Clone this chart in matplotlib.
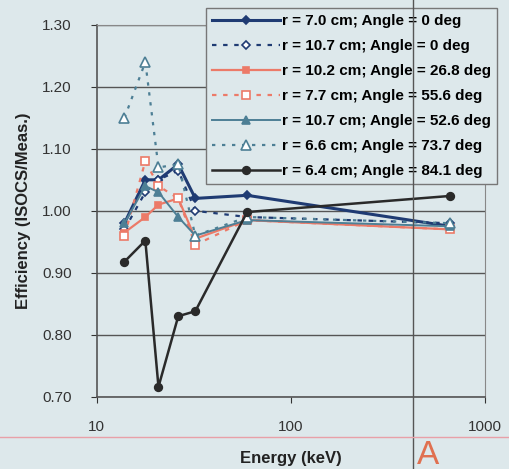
import numpy as np
import matplotlib.pyplot as plt
from matplotlib.lines import Line2D

# Energies (keV) of the measured lines
energy = [13.9, 17.8, 20.8, 26.3, 32.2, 59.5, 661.7]

labels = ["r = 7.0 cm; Angle = 0 deg",
          "r = 10.7 cm; Angle = 0 deg",
          "r = 10.2 cm; Angle = 26.8 deg",
          "r = 7.7 cm; Angle = 55.6 deg",
          "r = 10.7 cm; Angle = 52.6 deg",
          "r = 6.6 cm; Angle = 73.7 deg",
          "r = 6.4 cm; Angle = 84.1 deg"]

# Efficiency ratio (ISOCS / measured) per series
r70_a0   = [0.98, 1.05, 1.05, 1.075, 1.02, 1.025, 0.975]
r107_a0  = [0.97, 1.03, 1.05, 1.065, 1.00, 0.99, 0.98]
r102_a27 = [0.965, 0.99, 1.01, 1.02, 0.955, 0.985, 0.97]
r77_a56  = [0.96, 1.08, 1.04, 1.02, 0.945, 0.985, 0.97]
r107_a53 = [0.98, 1.04, 1.03, 0.99, 0.96, 0.985, 0.975]
r66_a74  = [1.15, 1.24, 1.07, 1.075, 0.96, 0.99, 0.98]
r64_a84  = [0.918, 0.952, 0.716, 0.83, 0.838, 0.998, 1.024]

series = [r70_a0, r107_a0, r102_a27, r77_a56, r107_a53, r66_a74, r64_a84]

navy = '#1f3b73'
salmon = '#ec7a68'
teal = '#4d7f95'
black = '#2a2a2a'
styles = [
    dict(color=navy, ls='-', marker='D', mfc=navy, ms=4.5, lw=2.2),
    dict(color=navy, ls=(0, (2, 3)), marker='D', mfc='white', ms=4.5, lw=1.6),
    dict(color=salmon, ls='-', marker='s', mfc=salmon, ms=5, lw=1.6),
    dict(color=salmon, ls=(0, (2, 3)), marker='s', mfc='white', ms=5.5, lw=1.6),
    dict(color=teal, ls='-', marker='^', mfc=teal, ms=5.5, lw=1.4),
    dict(color=teal, ls=(0, (1.5, 3)), marker='^', mfc='white', ms=6.5, lw=1.6),
    dict(color=black, ls='-', marker='o', mfc=black, ms=5.5, lw=1.8),
]

bg = '#dde8eb'
plt.rcParams['font.family'] = ['Liberation Sans', 'DejaVu Sans']

fig = plt.figure(figsize=(5.09, 4.69), dpi=100, facecolor=bg)
ax = fig.add_axes([0.19, 0.154, 0.763, 0.793], facecolor=bg)

for vals, lab, st in zip(series, labels, styles):
    ax.plot(energy, vals, label=lab, mec=st['color'], mew=1.2, **st)

ax.set_xscale('log')
ax.set_xlim(10, 1000)
ax.set_ylim(0.70, 1.30)
ax.set_yticks(np.arange(0.70, 1.31, 0.10))
ax.set_yticklabels([f"{v:.2f}" for v in np.arange(0.70, 1.31, 0.10)])
ax.set_xticks([10, 100, 1000])
ax.set_xticklabels(['10', '100', '1000'])
ax.minorticks_off()
ax.grid(True, axis='y', color='#555555', lw=1.0)
ax.tick_params(axis='y', labelsize=11, colors='#333333', length=4, pad=14)
ax.tick_params(axis='x', labelsize=11, colors='#333333', length=4, pad=13)
for s in ['top', 'right']:
    ax.spines[s].set_color('#888888')
for s in ['left', 'bottom']:
    ax.spines[s].set_color('#555555')
    ax.spines[s].set_linewidth(1.2)

ax.set_xlabel("Energy (keV)", fontsize=12, fontweight='bold', color='#222222', labelpad=12)
ax.set_ylabel("Efficiency (ISOCS/Meas.)", fontsize=12, fontweight='bold', color='#222222', labelpad=8)

leg = ax.legend(loc='upper right', bbox_to_anchor=(1.031, 1.046), borderaxespad=0,
                prop={'weight': 'bold', 'size': 11}, handlelength=4.4,
                handletextpad=0.15, labelspacing=0.72, borderpad=0.4,
                frameon=True, fancybox=False, framealpha=1)
leg.get_frame().set_facecolor(bg)
leg.get_frame().set_edgecolor('#777777')

# scan artefacts: fold line and underline
fig.add_artist(Line2D([413 / 509, 413 / 509], [0, 1], color='#555555', lw=1.0))
fig.add_artist(Line2D([0, 1], [1 - 437 / 469, 1 - 437 / 469], color='#e8a0a8', lw=1.0))
fig.text(428 / 509, 1 - 455 / 469, "A", color='#e07050', fontsize=24, ha='center', va='center')

fig.savefig('out.png', dpi=100, facecolor=bg)
